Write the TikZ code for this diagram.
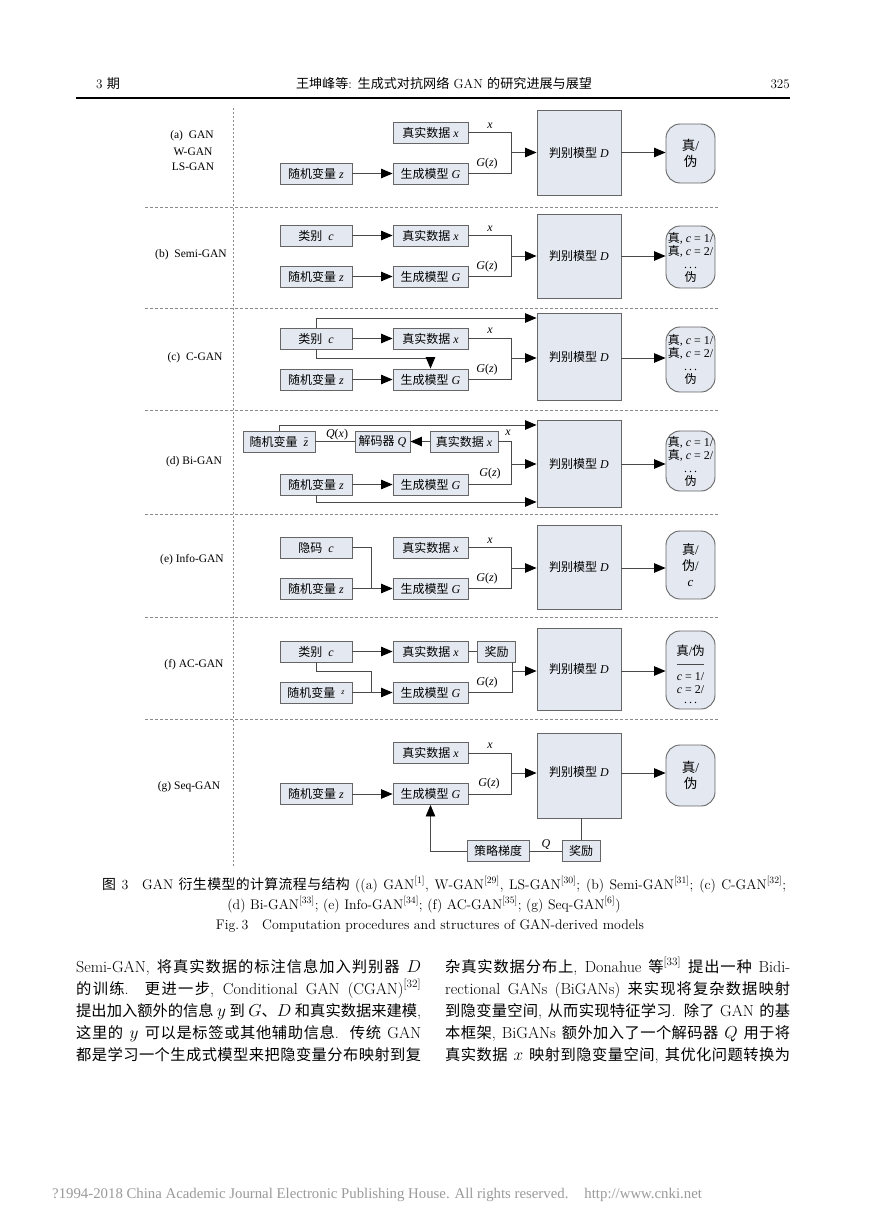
\documentclass[tikz,border=0pt]{standalone}
\usepackage{fontspec}
\usetikzlibrary{arrows.meta}
\newfontfamily\cjk{Noto Sans CJK SC}
\newfontfamily\cjkbody[Scale=0.955]{Noto Sans CJK SC}
\newfontfamily\tms{Liberation Serif}
\newcommand\cjkfont{\cjk}
\XeTeXinterchartokenstate=1
\newXeTeXintercharclass\CJKcls
\makeatletter
\newcommand\setcjkrange[2]{\count@=#1\relax
  \loop\XeTeXcharclass\count@=\CJKcls\relax
  \ifnum\count@<#2\relax\advance\count@\@ne\repeat}
\setcjkrange{"3000}{"303F}
\setcjkrange{"4E00}{"9FFF}
\setcjkrange{"FF00}{"FFEF}
\makeatother
\XeTeXinterchartoks 0 \CJKcls = {\begingroup\cjkfont}
\XeTeXinterchartoks 4095 \CJKcls = {\begingroup\cjkfont}
\XeTeXinterchartoks \CJKcls 0 = {\endgroup}
\XeTeXinterchartoks \CJKcls 4095 = {\endgroup}
\XeTeXinterchartoks \CJKcls \CJKcls = {\hskip 0pt plus 1pt\relax}
\definecolor{bfill}{HTML}{E4E9F1}
\definecolor{bline}{HTML}{666666}
\definecolor{lcol}{HTML}{4A4A4A}
\definecolor{sepcol}{HTML}{8A8A8A}
\definecolor{footgray}{HTML}{9A9A9A}
\newcommand\dfont{\tms\fontsize{12}{14}\selectfont}
\newcommand\sfont{\tms\fontsize{12}{13}\selectfont}
\newcommand\ztilde{$\tilde{\mbox{\itshape z}}$}
\tikzset{
  bx/.style={draw=bline, fill=bfill, line width=0.9pt, inner sep=1pt, minimum height=21pt, font=\dfont},
  lb/.style={bx, minimum width=72pt},
  mb/.style={bx, minimum width=75pt},
  db/.style={bx, minimum width=84pt},
  ob/.style={bx, minimum width=49pt, rounded corners=14pt, align=center},
  ln/.style={draw=lcol, line width=0.9pt},
  ar/.style={ln, -{Triangle[length=11.5pt,width=9.5pt,color=black]}},
  lab/.style={font=\dfont, inner sep=0pt},
  pl/.style={font=\tms\fontsize{11.5}{14}\selectfont, inner sep=0pt},
  sepline/.style={draw=sepcol, line width=0.8pt, dash pattern=on 3pt off 2pt},
  vline/.style={draw=sepcol, line width=0.8pt, dash pattern=on 2pt off 2pt},
  hd/.style={font=\fontsize{13.1}{15}\selectfont, inner sep=0pt},
  captxt/.style={font=\fontsize{13.9}{16}\selectfont, inner sep=0pt, anchor=base},
  bodyl/.style={font=\fontsize{16}{22}\selectfont\let\cjkfont\cjkbody, inner sep=0pt, anchor=base west},
}
\begin{document}
\begin{tikzpicture}[x=1pt,y=-1pt]
\useasboundingbox (0,0) rectangle (869,1228);
\fill[white] (0,0) rectangle (869,1228);

% ---------- header ----------
\node[hd, anchor=base west] (h1) at (96,89) {3 期};
\node[hd, anchor=base] (h2) at (444,89) {王坤峰等: 生成式对抗网络 GAN 的研究进展与展望};
\node[hd, anchor=base east] (h3) at (790,89) {325};
\coordinate (hr1) at (76,98);
\coordinate (hr2) at (790,98);
\draw[line width=1.2pt] (hr1) -- (hr2);

% ---------- frame lines ----------
\foreach \yy in {207,308,410,514,617,719}{
  \draw[sepline] (145,\yy) -- (718,\yy);
}
\draw[vline] (233,108) -- (233,866);

% ---------- panel labels ----------
\node[pl] (la1) at (192,136) {(a)\ \ GAN};
\node[pl] (la2) at (193,152) {W-GAN};
\node[pl] (la3) at (193,167) {LS-GAN};
\node[pl] (lb) at (191,255) {(b)\ \ Semi-GAN};
\node[pl] (lc) at (195,358) {(c)\ \ C-GAN};
\node[pl] (ld) at (194,462) {(d) Bi-GAN};
\node[pl] (le) at (192,560) {(e) Info-GAN};
\node[pl] (lf) at (194,665) {(f) AC-GAN};
\node[pl] (lg) at (189,787) {(g) Seq-GAN};

% ---------- (a) ----------
\node[mb] (aX) at (430.5,132.5) {真实数据 \textit{x}};
\node[lb] (aZ) at (316,173.5) {随机变量 \textit{z}};
\node[mb] (aG) at (430.5,173.5) {生成模型 \textit{G}};
\node[db, minimum height=85pt] (aD) at (579,152.5) {判别模型 \textit{D}};
\node[ob, minimum height=59pt, font=\tms\fontsize{13.5}{16}\selectfont] (aO) at (690.5,153.5) {真/\\伪};
\coordinate (aJ) at (511,152.5);
\draw[ln] (aX.east) -| (aJ);
\draw[ln] (aG.east) -| (aJ);
\draw[ar] (aJ) -- (aJ -| aD.west);
\draw[ar] (aZ) -- (aG);
\draw[ar] (aD.east |- aJ) -- (aJ -| aO.west);
\node[lab] (axl) at (490,126) {\textit{x}};
\node[lab] (agl) at (487,164) {\textit{G}(\textit{z})};

% ---------- (b) ----------
\node[lb] (bC) at (316,235.5) {类别 \ \textit{c}};
\node[mb] (bX) at (430.5,235.5) {真实数据 \textit{x}};
\node[lb] (bZ) at (316,276.5) {随机变量 \textit{z}};
\node[mb] (bG) at (430.5,276.5) {生成模型 \textit{G}};
\node[db, minimum height=84pt] (bD) at (579,256) {判别模型 \textit{D}};
\node[ob, minimum height=62pt, font=\sfont] (bO) at (690.5,257) {真, \textit{c} = 1/\\真, \textit{c} = 2/\\.\,.\,.\\伪};
\coordinate (bJ) at (511,256);
\draw[ln] (bX.east) -| (bJ);
\draw[ln] (bG.east) -| (bJ);
\draw[ar] (bJ) -- (bJ -| bD.west);
\draw[ar] (bC) -- (bX);
\draw[ar] (bZ) -- (bG);
\draw[ar] (bD.east |- bJ) -- (bJ -| bO.west);
\node[lab] (bxl) at (490,229) {\textit{x}};
\node[lab] (bgl) at (487,267) {\textit{G}(\textit{z})};

% ---------- (c) ----------
\node[lb] (cC) at (316,338.5) {类别 \ \textit{c}};
\node[mb] (cX) at (430.5,338.5) {真实数据 \textit{x}};
\node[lb] (cZ) at (316,379.5) {随机变量 \textit{z}};
\node[mb] (cG) at (430.5,379.5) {生成模型 \textit{G}};
\node[db, minimum height=87pt] (cD) at (579,356.5) {判别模型 \textit{D}};
\node[ob, minimum height=65pt, font=\sfont] (cO) at (690.5,359.5) {真, \textit{c} = 1/\\真, \textit{c} = 2/\\.\,.\,.\\伪};
\coordinate (cJ) at (511,358);
\draw[ln] (cX.east) -| (cJ);
\draw[ln] (cG.east) -| (cJ);
\draw[ar] (cJ) -- (cJ -| cD.west);
\draw[ar] (cC) -- (cX);
\draw[ar] (cZ) -- (cG);
\draw[ar] (cD.east |- cJ) -- (cJ -| cO.west);
\coordinate (cT) at (316,318);
\draw[ar] (cC.north) -- (cT) -- (cT -| cD.west);
\coordinate (cB) at (430.5,358);
\draw[ar] (cC.south) |- (cB) -- (cG.north);
\node[lab] (cxl) at (490,331) {\textit{x}};
\node[lab] (cgl) at (487,370) {\textit{G}(\textit{z})};

% ---------- (d) ----------
\node[bx, minimum width=72pt] (dT) at (279,441.5) {随机变量 \ \ztilde};
\node[bx, minimum width=55pt] (dQ) at (382.5,441.5) {解码器 \textit{Q}};
\node[bx, minimum width=68pt] (dX) at (464,441.5) {真实数据 \textit{x}};
\node[lb] (dZ) at (316,484.5) {随机变量 \textit{z}};
\node[mb] (dG) at (430.5,484.5) {生成模型 \textit{G}};
\node[db, minimum height=87pt] (dD) at (579,463.5) {判别模型 \textit{D}};
\node[ob, minimum height=60pt, font=\sfont] (dO) at (690.5,461) {真, \textit{c} = 1/\\真, \textit{c} = 2/\\.\,.\,.\\伪};
\coordinate (dJ) at (511,464);
\draw[ln] (dX.east) -| (dJ);
\draw[ln] (dG.east) -| (dJ);
\draw[ar] (dJ) -- (dJ -| dD.west);
\draw[ar] (dX) -- (dQ);
\draw[ln] (dQ) -- (dT);
\draw[ar] (dZ) -- (dG);
\draw[ar] (dD.east |- dJ) -- (dJ -| dO.west);
\coordinate (dTop) at (279,425);
\draw[ar] (dT.north) -- (dTop) -- (dTop -| dD.west);
\coordinate (dBot) at (316,502);
\draw[ar] (dZ.south) -- (dBot) -- (dBot -| dD.west);
\node[lab] (dql) at (337,435) {\textit{Q}(\textit{x})};
\node[lab] (dxl) at (508,433) {\textit{x}};
\node[lab] (dgl) at (490,474) {\textit{G}(\textit{z})};

% ---------- (e) ----------
\node[lb] (eC) at (316,547.5) {隐码 \ \textit{c}};
\node[mb] (eX) at (430.5,547.5) {真实数据 \textit{x}};
\node[lb] (eZ) at (316,588.5) {随机变量 \textit{z}};
\node[mb] (eG) at (430.5,588.5) {生成模型 \textit{G}};
\node[db, minimum height=84pt] (eD) at (579,567) {判别模型 \textit{D}};
\node[ob, minimum height=68pt, font=\tms\fontsize{13}{16}\selectfont] (eO) at (690.5,565) {真/\\伪/\\\textit{c}};
\coordinate (eJ) at (511,568);
\draw[ln] (eX.east) -| (eJ);
\draw[ln] (eG.east) -| (eJ);
\draw[ar] (eJ) -- (eJ -| eD.west);
\draw[ar] (eZ) -- (eG);
\coordinate (eK) at (371,588.5);
\draw[ln] (eC.east) -| (eK);
\draw[ar] (eD.east |- eJ) -- (eJ -| eO.west);
\node[lab] (exl) at (490,541) {\textit{x}};
\node[lab] (egl) at (487,579) {\textit{G}(\textit{z})};

% ---------- (f) ----------
\node[lb] (fC) at (316,651.5) {类别 \ \textit{c}};
\node[mb] (fX) at (430.5,651.5) {真实数据 \textit{x}};
\node[bx, minimum width=38pt] (fR) at (496.5,651.5) {奖励};
\node[lb] (fZ) at (316,692.5) {随机变量 \ \raisebox{3pt}{\fontsize{8}{8}\selectfont\textit{z}}};
\node[mb] (fG) at (430.5,692.5) {生成模型 \textit{G}};
\node[db, minimum height=82pt] (fD) at (579,669) {判别模型 \textit{D}};
\node[ob, minimum height=78pt] (fO) at (690.5,670) {};
\node[pl, font=\tms\fontsize{12.5}{14}\selectfont] (fO1) at (690.5,651) {真/伪};
\coordinate (fr1) at (677,664);
\coordinate (fr2) at (704,664);
\draw[lcol, line width=0.5pt] (fr1) -- (fr2);
\node[pl, font=\sfont] (fO2) at (690.5,677) {\textit{c} = 1/};
\node[pl, font=\sfont] (fO3) at (690.5,689.5) {\textit{c} = 2/};
\node[pl, font=\sfont, anchor=base] (fO4) at (690.5,703) {.\,.\,.};
\coordinate (fJ) at (512,671);
\draw[ln] (fR.south -| fJ) -- (fJ);
\draw[ln] (fG.east) -| (fJ);
\draw[ar] (fJ) -- (fJ -| fD.west);
\draw[ln] (fX) -- (fR);
\draw[ar] (fC) -- (fX);
\draw[ar] (fZ) -- (fG);
\coordinate (fK) at (371,671);
\coordinate (fL) at (371,692.5);
\draw[ln] (fC.south) |- (fK) -- (fL);
\draw[ar] (fD.east |- fJ) -- (fJ -| fO.west);
\node[lab] (fgl) at (487,683) {\textit{G}(\textit{z})};

% ---------- (g) ----------
\node[mb] (gX) at (430.5,753) {真实数据 \textit{x}};
\node[lb] (gZ) at (316,794) {随机变量 \textit{z}};
\node[mb] (gG) at (430.5,794) {生成模型 \textit{G}};
\node[db, minimum height=85pt] (gD) at (579,775.5) {\raisebox{8pt}{判别模型 \textit{D}}};
\node[ob, minimum height=61pt, font=\tms\fontsize{13.5}{16}\selectfont] (gO) at (690.5,775.5) {真/\\伪};
\node[bx, minimum width=62pt] (gP) at (498,851) {策略梯度};
\node[bx, minimum width=38pt] (gR) at (581,851) {奖励};
\coordinate (gJ) at (511,773);
\draw[ln] (gX.east) -| (gJ);
\draw[ln] (gG.east) -| (gJ);
\draw[ar] (gJ) -- (gJ -| gD.west);
\draw[ar] (gZ) -- (gG);
\draw[ar] (gD.east |- gJ) -- (gJ -| gO.west);
\draw[ln] (gD.south -| gR) -- (gR.north);
\draw[ln] (gR) -- (gP);
\draw[ar] (gP.west) -| (gG.south);
\node[lab] (gxl) at (490,746) {\textit{x}};
\node[lab] (ggl) at (489,784) {\textit{G}(\textit{z})};
\node[lab] (gql) at (546,844) {\textit{Q}};

% ---------- caption ----------
\node[captxt, anchor=base west] (cap1) at (102,889) {\hbox to 684pt{图 3\quad GAN 衍生模型的计算流程与结构 ((a) GAN\textsuperscript{[1]}, W-GAN\textsuperscript{[29]}, LS-GAN\textsuperscript{[30]}; (b) Semi-GAN\textsuperscript{[31]}; (c) C-GAN\textsuperscript{[32]};}};
\node[captxt] (cap2) at (424,909) {(d) Bi-GAN\textsuperscript{[33]}; (e) Info-GAN\textsuperscript{[34]}; (f) AC-GAN\textsuperscript{[35]}; (g) Seq-GAN\textsuperscript{[6]})};
\node[captxt] (cap3) at (430,929) {Fig.\,3\quad Computation procedures and structures of GAN-derived models};

% ---------- body text ----------
\node[bodyl] (L1) at (76,972) {\hbox to 345pt{Semi-GAN, 将真实数据的标注信息加入判别器 $D$}};
\node[bodyl] (L2) at (76,994) {\hbox to 345pt{的训练. 更进一步, Conditional GAN (CGAN)\textsuperscript{[32]}}};
\node[bodyl] (L3) at (76,1016) {\hbox to 345pt{提出加入额外的信息 $y$ 到 $G$、$D$ 和真实数据来建模,}};
\node[bodyl] (L4) at (76,1038) {\hbox to 345pt{这里的 $y$ 可以是标签或其他辅助信息. 传统 GAN}};
\node[bodyl] (L5) at (76,1060) {\hbox to 345pt{都是学习一个生成式模型来把隐变量分布映射到复}};
\node[bodyl] (R1) at (445,972) {\hbox to 345pt{杂真实数据分布上, Donahue 等\textsuperscript{[33]} 提出一种 Bidi-}};
\node[bodyl] (R2) at (445,994) {\hbox to 345pt{rectional GANs (BiGANs) 来实现将复杂数据映射}};
\node[bodyl] (R3) at (445,1016) {\hbox to 345pt{到隐变量空间, 从而实现特征学习. 除了 GAN 的基}};
\node[bodyl] (R4) at (445,1038) {\hbox to 345pt{本框架, BiGANs 额外加入了一个解码器 $Q$ 用于将}};
\node[bodyl] (R5) at (445,1060) {\hbox to 345pt{真实数据 $x$ 映射到隐变量空间, 其优化问题转换为}};

% ---------- footer ----------
\node[font=\tms\fontsize{14.8}{16}\selectfont, text=footgray, anchor=base west, inner sep=0pt] (ft) at (52,1198) {?1994-2018 China Academic Journal Electronic Publishing House. All rights reserved.\hspace{16pt}http://www.cnki.net};
\end{tikzpicture}
\end{document}
